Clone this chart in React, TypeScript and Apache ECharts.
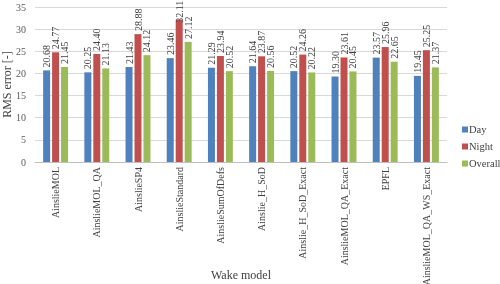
import React, { useEffect, useRef } from "react";
import * as echarts from "echarts";

const categories = [
  "AinslieMOL",
  "AinslieMOL_QA",
  "AinslieSP4",
  "AinslieStandard",
  "AinslieSumOfDefs",
  "Ainslie_H_SoD",
  "Ainslie_H_SoD_Exact",
  "AinslieMOL_QA_Exact",
  "EPFL",
  "AinslieMOL_QA_WS_Exact",
];
const dayValues = [20.68, 20.25, 21.43, 23.46, 21.29, 21.64, 20.52, 19.3, 23.57, 19.45];
const nightValues = [24.77, 24.4, 28.88, 32.11, 23.94, 23.87, 24.26, 23.61, 25.96, 25.25];
const overallValues = [21.45, 21.13, 24.12, 27.12, 20.52, 20.56, 20.22, 20.45, 22.65, 21.37];
const yTicks = [0, 5, 10, 15, 20, 25, 30, 35];

const FONT = "Liberation Serif, Times New Roman, serif";

export default function App() {
  const ref = useRef<HTMLDivElement>(null);
  useEffect(() => {
    if (!ref.current) return;
    document.body.style.margin = "0";
    const chart = echarts.init(ref.current, undefined, { renderer: "svg" });
    const label = {
      show: true,
      position: "top" as const,
      rotate: 90,
      align: "left",
      verticalAlign: "middle",
      distance: 3,
      fontFamily: FONT,
      fontSize: 10,
      color: "#404040",
      formatter: (p: any) => p.value.toFixed(2),
    };
    const mk = (name: string, data: number[], color: string) => ({
      name,
      type: "bar",
      // labels that would overflow the top edge are pulled down onto the bar (as in the original)
      data: data.map((v) => (v > 31 ? { value: v, label: { distance: -3 } } : v)),
      barWidth: 7,
      barGap: "28%",
      itemStyle: { color },
      label,
    });
    chart.setOption({
      animation: false,
      textStyle: { fontFamily: FONT },
      grid: { left: 35, right: 53, top: 7, bottom: 122, outerBoundsMode: "none", containLabel: false },
      legend: {
        orient: "vertical",
        left: 457,
        top: 119,
        itemWidth: 6,
        itemHeight: 6,
        itemGap: 6,
        icon: "rect",
        textStyle: { fontFamily: FONT, fontSize: 10.5, color: "#404040", padding: [0, 0, 0, -4] },
        data: ["Day", "Night", "Overall"],
      },
      xAxis: {
        type: "category",
        data: categories,
        name: "Wake model",
        nameLocation: "middle",
        nameGap: 107,
        nameMoveOverlap: false,
        nameTextStyle: { fontFamily: FONT, fontSize: 12, color: "#404040" },
        axisLine: { lineStyle: { color: "#bfbfbf" } },
        axisTick: { show: false },
        axisLabel: { rotate: 90, fontFamily: FONT, fontSize: 10, color: "#404040", margin: 5 },
      },
      yAxis: {
        type: "value",
        min: 0,
        max: 35,
        interval: 5,
        name: "RMS error [-]",
        nameLocation: "middle",
        nameGap: 22,
        nameMoveOverlap: false,
        nameTextStyle: { fontFamily: FONT, fontSize: 12, color: "#404040" },
        axisLine: { show: false },
        axisTick: { show: false },
        splitLine: { lineStyle: { color: "#d9d9d9" } },
        axisLabel: {
          fontFamily: FONT,
          fontSize: 10,
          color: "#595959",
          margin: 9,
          formatter: (v: number) => (yTicks.includes(v) ? String(v) : ""),
        },
      },
      series: [
        mk("Day", dayValues, "#4F81BD"),
        mk("Night", nightValues, "#C0504D"),
        mk("Overall", overallValues, "#9BBB59"),
      ],
    });
    return () => chart.dispose();
  }, []);
  return (
    <div
      ref={ref}
      style={{ position: "fixed", left: 0, top: 0, width: 500, height: 284 }}
    />
  );
}
